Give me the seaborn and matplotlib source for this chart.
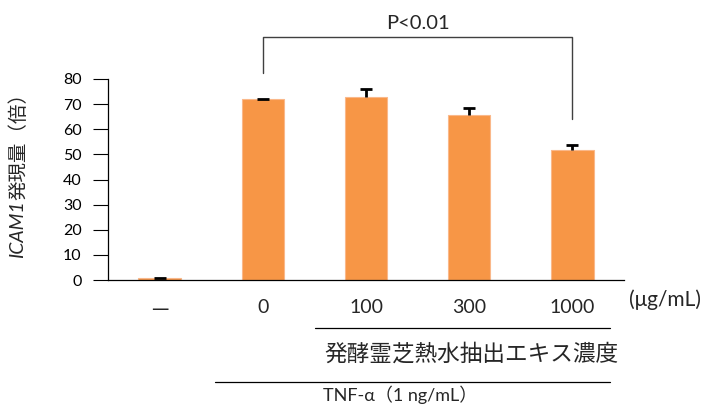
import matplotlib
matplotlib.use("Agg")
import matplotlib.pyplot as plt
import seaborn as sns
import pandas as pd
import numpy as np

# dados
grupos = ["—", "0", "100", "300", "1000"]
expressao = [0.7, 71.9, 72.8, 65.8, 51.7]
erro = [0.1, 0.3, 3.3, 2.8, 2.1]
y_ticks = [0, 10, 20, 30, 40, 50, 60, 70, 80]

sns.set_style("white")
plt.rcParams["font.family"] = ["Lato", "Noto Sans CJK JP", "DejaVu Sans"]

W, H = 705, 405
fig = plt.figure(figsize=(W / 100, H / 100), dpi=100)
ax = fig.add_axes([108 / W, 1 - 280 / H, (624 - 108) / W, (280 - 79) / H])

df = pd.DataFrame({"grupo": grupos, "valor": expressao})
sns.barplot(data=df, x="grupo", y="valor", color="#F79646", width=0.41,
            saturation=1, edgecolor="#FAB88A", linewidth=0.8, errorbar=None, ax=ax)

# barras de erro só para cima
pos = np.arange(len(grupos))
_, caps, _ = ax.errorbar(pos, expressao, yerr=[np.zeros(len(erro)), erro], fmt="none",
                         ecolor="black", elinewidth=2, capsize=4, capthick=2)
caps[0].set_visible(False)

ax.set_xlim(-0.5, len(grupos) - 0.5)
ax.set_ylim(0, 80)
ax.set_yticks(y_ticks)
ax.tick_params(axis="y", direction="out", length=11, width=0.8, pad=8,
               labelsize=11.5, colors="black", left=True)
ax.tick_params(axis="x", length=0, pad=14, labelsize=14)
ax.get_xticklabels()[0].set_fontfamily(["Noto Sans CJK JP"])
ax.set_xlabel("")
ax.set_ylabel("")
for s in ["top", "right"]:
    ax.spines[s].set_visible(False)
for s in ["left", "bottom"]:
    ax.spines[s].set_color("black")
    ax.spines[s].set_linewidth(0.9)

# rótulo do eixo y (ICAM1 em itálico)
t1 = fig.text(18 / W, 1 - 258 / H, "ICAM1", rotation=90, rotation_mode="anchor",
              style="italic", fontsize=14, ha="left", va="center")
fig.canvas.draw()
bb = t1.get_window_extent().transformed(fig.transFigure.inverted())
fig.text(18 / W, bb.y1, "発現量（倍）", rotation=90, rotation_mode="anchor",
         fontsize=14, ha="left", va="center")

# colchete de significância
ax.plot([1, 1, 4, 4], [82.4, 96.7, 96.7, 64], color="#404040", lw=1,
        clip_on=False)
ax.text(2.5, 102, "P<0.01", ha="center", va="center", fontsize=14.5)

# anotações abaixo do eixo
fig.text(629 / W, 1 - 300 / H, "(μg/mL)", fontsize=15, ha="left", va="center")
fig.add_artist(plt.Line2D([315 / W, 610 / W], [1 - 328 / H, 1 - 328 / H],
                          color="black", lw=0.9))
fig.text(471 / W, 1 - 354 / H, "発酵霊芝熱水抽出エキス濃度", fontsize=16.3,
         ha="center", va="center")
fig.add_artist(plt.Line2D([215 / W, 610 / W], [1 - 382 / H, 1 - 382 / H],
                          color="black", lw=0.9))
fig.text(400 / W, 1 / H, "TNF-α（1 ng/mL）", fontsize=13,
         ha="center", va="bottom")

fig.savefig("out.png", dpi=100)
